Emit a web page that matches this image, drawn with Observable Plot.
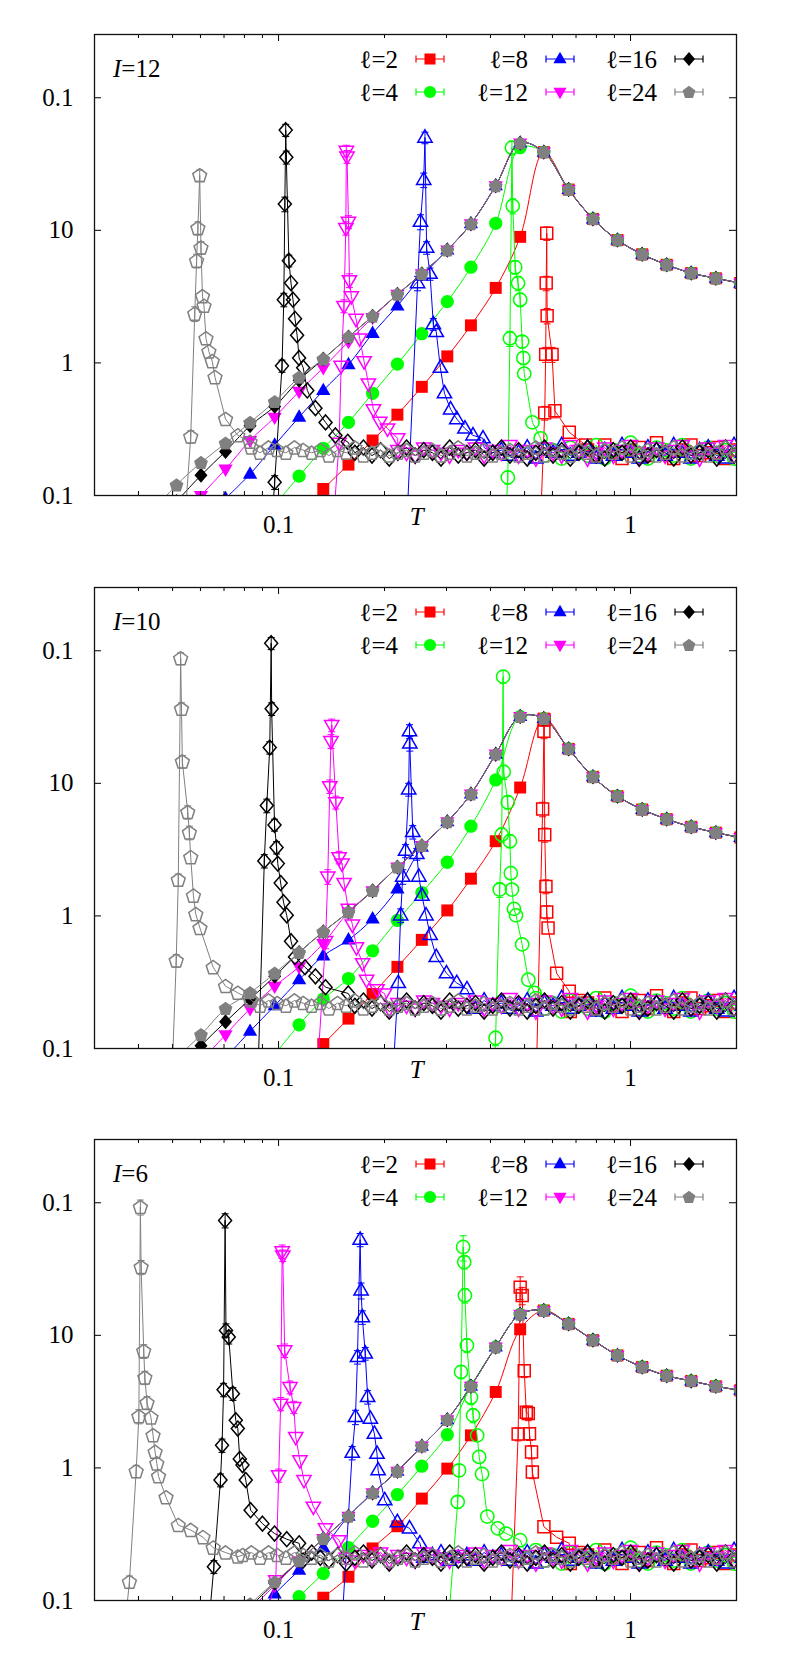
<!DOCTYPE html>
<html><head><meta charset="utf-8">
<script src="https://cdn.jsdelivr.net/npm/d3@7"></script>
<script src="https://cdn.jsdelivr.net/npm/@observablehq/plot@0.6"></script>
<style>
body{margin:0;background:#fff}#root{width:789px}svg{display:block}
svg text{font-family:"Liberation Serif","Times New Roman",Times,"DejaVu Serif",serif !important;}
</style>
</head><body><div id="root"></div>
<script>
// ---------------- data ----------------
const ells = [2, 4, 8, 12, 16, 24];
const panelLabels = ["12", "10", "6"];
const yTicks = [0.1, 1, 10, 100];
const yTickLabels = ["0.1", "1", "10", "0.1"];
const xTicks = [0.1, 1];
const xTickLabels = ["0.1", "1"];
const xMinorTicks = [0.04,0.05,0.06,0.07,0.08,0.09,0.2,0.3,0.4,0.5,0.6,0.7,0.8,0.9];
const xLabelT = 0.247;

// temperatures of the filled-symbol series
const fT = [0.0437,0.0513,0.0602,0.0707,0.083,0.0975,0.1144,0.134,0.158,0.185,0.2176,0.2553,0.3016,0.352,0.414,0.4858,0.567,0.667,0.782,0.918,1.079,1.267,1.487,1.747,2.05];

// common high-T envelope (ℓ=24 filled) per panel
const envI12 = [0.075,0.12,0.177,0.248,0.356,0.51,0.78,1.07,1.57,2.25,3.29,4.7,7.1,11.2,21.7,45.6,38.9,20.3,12.2,8.45,6.6,5.5,4.76,4.35,4.0];
const envI10 = [null,0.085,0.127,0.2,0.263,0.369,0.53,0.76,1.07,1.55,2.34,3.39,5.13,8.3,16.6,31.9,30.8,18.2,11.2,8.0,6.35,5.37,4.7,4.25,3.9];
const envI6  = [null,null,null,null,0.094,0.138,0.199,0.293,0.432,0.648,0.944,1.46,2.31,4.13,8.17,14.4,15.4,12.2,9.2,7.06,5.77,4.96,4.53,4.13,3.85];

// low-T part of filled series per ℓ (aligned to fT, envelope afterwards)
const lowI12 = [
  [null,null,null,null,null,null,0.07,0.112,0.171,0.26,0.407,0.66,1.12,1.92,3.68,8.93],
  [null,null,null,null,null,0.085,0.14,0.227,0.356,0.59,0.98,1.66,2.9,5.27,11.3,42],
  [null,null,null,0.095,0.145,0.24,0.39,0.62,0.97,1.67,2.69,4.5],
  [null,0.062,0.1,0.158,0.26,0.389,0.61,0.92,1.45,2.2],
  [null,0.09,0.142,0.215,0.336,0.47,0.74],
  []
];
const lowI10 = [
  [null,null,null,null,null,null,0.07,0.108,0.168,0.258,0.413,0.66,1.1,1.91,3.66,9.3],
  [null,null,null,null,null,0.09,0.151,0.236,0.337,0.546,0.925,1.5,2.54,4.75,10.6],
  [null,null,null,0.085,0.135,0.21,0.33,0.5,0.66,0.95,1.6,3.3],
  [null,null,0.08,0.127,0.2,0.295,0.413,0.62],
  [null,0.065,0.105,0.159,0.236,0.35],
  []
];
const lowI6 = [
  [null,null,null,null,null,null,0.07,0.105,0.151,0.247,0.363,0.587,0.988,1.76,3.74,11.1],
  [null,null,null,null,null,0.07,0.107,0.16,0.25,0.396,0.63,1.03,1.78],
  [null,null,null,null,0.07,0.112,0.169,0.25],
  [null,null,null,null,0.085,0.13],
  [null,null,null,null,0.09,0.135],
  []
];

// open-symbol series near the peak: [T, value, error]
const peakI12 = [
  [[0.556,0.07],[0.5705,0.42,0.05],[0.574,1.16,0.15],[0.576,4.0,0.5],[0.578,9.5,1.1],[0.5795,2.27,0.3],[0.5985,1.16,0.15],[0.6098,0.435,0.05],[0.6697,0.3],[0.7454,0.24]],
  [[0.442,0.07],[0.448,0.137,0.015],[0.4543,1.53,0.2],[0.4603,42,5],[0.4628,15.3,2],[0.4702,5.27,0.6],[0.4791,4.0,0.5],[0.4858,3.0,0.35],[0.4921,1.45,0.15],[0.4961,1.09,0.12],[0.4989,0.83],[0.5264,0.356],[0.5553,0.27]],
  [[0.232,0.07],[0.2483,4.0,0.5],[0.2531,11.6,1.5],[0.2585,24,3],[0.2606,50,5],[0.2634,7.4,0.8],[0.2693,4.7,0.5],[0.2753,1.96,0.2],[0.2806,1.71],[0.2882,0.92],[0.296,0.59],[0.3082,0.446],[0.321,0.377],[0.3384,0.32],[0.3568,0.284],[0.381,0.27]],
  [[0.1436,0.07],[0.1486,0.25],[0.1506,0.95],[0.1534,2.69,0.3],[0.1553,10.4,1.2],[0.1558,39.8,4],[0.1565,36,4],[0.158,11.6,1.3],[0.159,4.2,0.5],[0.161,3.18],[0.166,2.15],[0.17,1.53],[0.175,1.03],[0.18,0.7],[0.186,0.446],[0.194,0.36],[0.204,0.32],[0.218,0.27]],
  [[0.096,0.07],[0.0975,0.126,0.015],[0.1023,0.95,0.1],[0.1035,3.0,0.35],[0.1042,15.8,2],[0.1048,57,6],[0.1052,35.6,4],[0.107,5.9,0.6],[0.1085,4.0],[0.1099,3.0],[0.1114,2.15],[0.1129,1.62],[0.1144,1.09],[0.1175,0.92],[0.1207,0.62],[0.1273,0.456],[0.136,0.356],[0.1451,0.284],[0.1572,0.254]],
  [[0.0543,0.07],[0.0563,0.278,0.03],[0.0578,2.35,0.3],[0.0585,5.9,0.7],[0.059,10.4,1.2],[0.0597,26,2.5],[0.0602,7.4,0.8],[0.0608,3.18],[0.0614,2.69],[0.0622,1.53],[0.0634,1.22],[0.0648,1.03],[0.066,0.78],[0.0707,0.377],[0.0766,0.284],[0.083,0.254]]
];
const peakI10 = [
  [[0.5405,0.07],[0.5627,6.4,0.8],[0.5674,24.7,3],[0.5685,30,3],[0.5705,4.1,0.5],[0.575,1.67,0.2],[0.578,1.07,0.12],[0.583,0.81],[0.6167,0.369],[0.6697,0.27]],
  [[0.41,0.07],[0.4136,0.12,0.015],[0.4248,1.58,0.2],[0.4305,4.1,0.5],[0.4345,63.8,7],[0.4362,12.2,1.5],[0.448,7.2,0.8],[0.4543,3.66,0.4],[0.457,2.1],[0.4603,1.58],[0.4665,1.13],[0.4727,1.01],[0.4921,0.61],[0.5124,0.33],[0.5335,0.263]],
  [[0.2118,0.07],[0.2188,0.312],[0.2223,1.01,0.12],[0.2253,1.98,0.25],[0.2295,3.1,0.35],[0.2343,9.0,1],[0.2355,24.7,3],[0.236,20,2.5],[0.2406,4.3,0.5],[0.2471,2.93,0.3],[0.2504,1.98],[0.2555,1.42],[0.2624,1.01],[0.2695,0.72],[0.2806,0.49],[0.3,0.369],[0.3208,0.312],[0.343,0.28]],
  [[0.129,0.07],[0.136,0.645,0.08],[0.138,1.98,0.25],[0.1398,9.5,1.1],[0.1409,20.8,2.5],[0.1416,27.5,3],[0.1455,7.2,0.8],[0.1486,2.77,0.3],[0.1515,2.48],[0.1535,1.77],[0.1578,1.13],[0.1621,0.86],[0.1665,0.58],[0.1733,0.44],[0.1779,0.33],[0.1904,0.28],[0.2,0.26]],
  [[0.0875,0.07],[0.0911,2.6,0.3],[0.0926,6.8,0.8],[0.0944,18.6,2],[0.0953,114,12],[0.0956,36.5,4],[0.0974,4.86,0.5],[0.0987,3.28,0.35],[0.0995,2.48],[0.1014,1.77],[0.1033,1.27],[0.1055,1.01],[0.1085,0.645],[0.1114,0.49],[0.1189,0.41],[0.1273,0.35],[0.136,0.29],[0.1578,0.26]],
  [[0.0499,0.07],[0.0512,0.46,0.05],[0.0519,1.87,0.2],[0.0527,87.5,9],[0.053,36.5,4],[0.0533,14.6,1.6],[0.0552,6.07,0.7],[0.0558,4.25,0.5],[0.0563,2.77],[0.0573,1.42],[0.0582,1.03],[0.0598,0.81],[0.0652,0.41],[0.0707,0.295],[0.0766,0.263],[0.083,0.236]]
];
const peakI6 = [
  [[0.4579,0.07],[0.4794,1.8,0.2],[0.4858,23.1,4.5],[0.4923,20,3],[0.4989,5.4,0.6],[0.5056,2.63,0.3],[0.5123,2.57,0.3],[0.5164,1.81,0.2],[0.5233,1.32,0.15],[0.526,0.93,0.1],[0.5674,0.36],[0.6167,0.3],[0.6697,0.27]],
  [[0.3041,0.07],[0.3228,0.555,0.06],[0.3258,0.96,0.1],[0.33,5.3,0.6],[0.3345,46.4,10],[0.3369,35.7,4],[0.3384,20,2.5],[0.3429,8.4,1],[0.3522,3.4,0.4],[0.357,2.49,0.3],[0.3667,1.76],[0.3716,1.21],[0.3785,0.9],[0.3918,0.43],[0.4196,0.35],[0.4428,0.32],[0.4858,0.285]],
  [[0.1516,0.07],[0.1619,1.3,0.15],[0.1654,2.42,0.3],[0.1676,6.87,0.8],[0.1705,52.6,6],[0.1716,21.8,3],[0.173,13.7,1.6],[0.1763,7.3,0.8],[0.1791,3.43,0.4],[0.1823,2.35],[0.1872,1.81],[0.1904,1.28],[0.1918,0.96],[0.2003,0.57],[0.2176,0.39],[0.2356,0.35],[0.2521,0.27]],
  [[0.0915,0.07],[0.0982,0.142],[0.1001,0.88,0.1],[0.1014,3.05,0.35],[0.1024,43,5],[0.1028,40,4],[0.1041,7.7,0.9],[0.1078,4.07,0.45],[0.1105,2.88,0.3],[0.1119,1.71],[0.115,1.14],[0.1181,0.81],[0.1256,0.51],[0.136,0.35],[0.1486,0.285]],
  [[0.0635,0.07],[0.0655,0.18,0.02],[0.0684,0.81,0.09],[0.0691,1.48,0.17],[0.0698,3.89,0.45],[0.0705,73.6,9],[0.0709,10.9,1.3],[0.0722,9.7,1.1],[0.0742,3.63,0.4],[0.0756,2.29],[0.0766,1.98],[0.0776,1.17],[0.079,1.05],[0.0807,0.81],[0.0833,0.48],[0.09,0.38],[0.0974,0.32],[0.1055,0.29],[0.1144,0.27]],
  [[0.0365,0.06],[0.0377,0.138,0.015],[0.0394,0.944,0.1],[0.0401,2.45,0.3],[0.0405,92.8,12],[0.0407,32.7,4],[0.0414,7.6,0.9],[0.0417,4.8,0.55],[0.0423,3.1,0.35],[0.0434,2.4],[0.044,1.76],[0.0446,1.32],[0.0451,1.08],[0.0456,0.865],[0.0479,0.6],[0.0519,0.37],[0.0563,0.34],[0.061,0.3],[0.0652,0.25],[0.0707,0.23],[0.0766,0.214]]
];

// temperatures of the flat high-T tail of the open series
const bT = [0.045,0.0476,0.0504,0.0533,0.0564,0.0597,0.0632,0.0668,0.0707,0.0748,0.0791,0.0837,0.0886,0.0937,0.0991,0.1049,0.111,0.1174,0.1242,0.1314,0.139,0.1471,0.1556,0.1647,0.1742,0.1843,0.195,0.2063,0.2183,0.231,0.2444,0.2586,0.2736,0.2894,0.3062,0.324,0.3428,0.3627,0.3837,0.406,0.4295,0.4544,0.4808,0.5087,0.5382,0.5694,0.6024,0.6374,0.6743,0.7134,0.7548,0.7986,0.8449,0.8939,0.9458,1.0006,1.0587,1.1201,1.1851,1.2538,1.3265,1.4035,1.4849,1.571,1.6621,1.7585,1.8605,1.9684,2.08];
const tailL2  = [0.22,0.21,0.23,0.2,0.22,0.21,0.2,0.23,0.21,0.22,0.2,0.21,0.23,0.22,0.2,0.21,0.22,0.2,0.23,0.21,0.22,0.2,0.21,0.22,0.23,0.2,0.21,0.22,0.2,0.23,0.21,0.22,0.2,0.21,0.23,0.22,0.2,0.21,0.22,0.23,0.21,0.2,0.22,0.21,0.24,0.2,0.22,0.21,0.19,0.23,0.22,0.2,0.24,0.21,0.19,0.22,0.23,0.2,0.25,0.21,0.19,0.22,0.24,0.2,0.21,0.23,0.19,0.22,0.21];
const tailL4  = [0.21,0.22,0.2,0.22,0.21,0.23,0.2,0.21,0.22,0.2,0.22,0.21,0.2,0.23,0.21,0.22,0.2,0.21,0.23,0.22,0.2,0.21,0.22,0.2,0.21,0.23,0.22,0.2,0.21,0.22,0.23,0.2,0.21,0.22,0.2,0.23,0.21,0.22,0.2,0.21,0.23,0.22,0.19,0.21,0.24,0.2,0.22,0.19,0.23,0.21,0.2,0.24,0.19,0.22,0.21,0.25,0.2,0.19,0.23,0.22,0.2,0.24,0.19,0.21,0.23,0.2,0.22,0.19,0.23];
const tailL8  = [0.22,0.2,0.21,0.23,0.2,0.22,0.21,0.2,0.23,0.21,0.2,0.22,0.21,0.23,0.2,0.21,0.22,0.2,0.21,0.23,0.22,0.21,0.2,0.22,0.23,0.21,0.2,0.22,0.21,0.23,0.2,0.21,0.22,0.23,0.2,0.21,0.22,0.2,0.23,0.21,0.22,0.2,0.21,0.23,0.19,0.22,0.21,0.24,0.2,0.21,0.23,0.19,0.22,0.2,0.24,0.21,0.19,0.23,0.22,0.2,0.24,0.21,0.19,0.22,0.23,0.2,0.19,0.24,0.21];
const tailL12 = [0.21,0.23,0.22,0.2,0.21,0.22,0.23,0.21,0.2,0.22,0.21,0.23,0.2,0.22,0.21,0.2,0.23,0.22,0.21,0.2,0.22,0.23,0.21,0.2,0.22,0.21,0.23,0.2,0.22,0.21,0.2,0.23,0.22,0.21,0.2,0.22,0.21,0.23,0.2,0.22,0.21,0.24,0.2,0.22,0.19,0.23,0.21,0.2,0.24,0.22,0.19,0.21,0.23,0.2,0.22,0.24,0.19,0.21,0.23,0.2,0.22,0.24,0.2,0.19,0.23,0.21,0.24,0.2,0.22];
const tailL16 = [0.23,0.22,0.21,0.23,0.2,0.22,0.21,0.23,0.2,0.22,0.21,0.23,0.2,0.22,0.21,0.19,0.22,0.2,0.23,0.21,0.2,0.22,0.19,0.21,0.23,0.2,0.22,0.19,0.21,0.23,0.2,0.22,0.21,0.19,0.23,0.2,0.21,0.22,0.19,0.21,0.23,0.2,0.22,0.19,0.21,0.23,0.2,0.22,0.19,0.21,0.23,0.2,0.19,0.22,0.21,0.23,0.19,0.2,0.22,0.21,0.19,0.23,0.2,0.21,0.22,0.19,0.23,0.2,0.21];
const tailL24 = [0.24,0.23,0.25,0.23,0.24,0.22,0.24,0.23,0.22,0.24,0.22,0.23,0.21,0.23,0.22,0.21,0.23,0.22,0.21,0.22,0.2,0.22,0.21,0.23,0.2,0.21,0.22,0.2,0.21,0.22,0.2,0.21,0.22,0.2,0.21,0.23,0.2,0.21,0.22,0.2,0.21,0.22,0.2,0.21,0.23,0.2,0.22,0.21,0.2,0.22,0.21,0.2,0.22,0.21,0.23,0.2,0.21,0.22,0.2,0.21,0.23,0.2,0.21,0.22,0.2,0.21,0.23,0.2,0.21];

// ---------------- styling / layout ----------------
const colors = ["#ff0000", "#00ff00", "#0000ff", "#ff00ff", "#000000", "#808080"];
const FONT = "Liberation Serif, Times New Roman, Times, DejaVu Serif, serif";
const W = 789, marginLeft = 94, marginRight = 53, marginTop = 34, frameH = 461;
const frameW = W - marginLeft - marginRight;
const panelHeights = [553, 552, 552];
const legendColX = [430, 560, 689];
const legendRowDy = [25, 58];
const dotR = 6.5;

function mkPoly(pts) {
  return { draw(ctx, size) {
    const r = Math.sqrt(size / Math.PI);
    ctx.moveTo(pts[0][0] * r, pts[0][1] * r);
    for (let k = 1; k < pts.length; k++) ctx.lineTo(pts[k][0] * r, pts[k][1] * r);
    ctx.closePath();
  } };
}
const pentPts = [0,1,2,3,4].map(k => { const a = -Math.PI / 2 + k * 2 * Math.PI / 5; return [1.12 * Math.cos(a), 1.12 * Math.sin(a) + 0.08]; });
const SYMS = [
  mkPoly([[-0.92,-0.92],[0.92,-0.92],[0.92,0.92],[-0.92,0.92]]),
  { draw(ctx, size) { const r = 1.02 * Math.sqrt(size / Math.PI); ctx.moveTo(r, 0); ctx.arc(0, 0, r, 0, 2 * Math.PI); ctx.closePath(); } },
  mkPoly([[0,-1.2],[1.1,0.7],[-1.1,0.7]]),
  mkPoly([[0,1.2],[1.1,-0.7],[-1.1,-0.7]]),
  mkPoly([[0,-1.15],[1.0,0],[0,1.15],[-1.0,0]]),
  mkPoly(pentPts)
];
const CAP = { draw(ctx, size) { const r = Math.sqrt(size / Math.PI); ctx.moveTo(-r, 0); ctx.lineTo(r, 0); } };

const yLab = new Map(yTicks.map((t, i) => [t, yTickLabels[i]]));
const xLab = new Map(xTicks.map((t, i) => [t, xTickLabels[i]]));
const envs = [envI12, envI10, envI6];
const lows = [lowI12, lowI10, lowI6];
const peaks = [peakI12, peakI10, peakI6];
const tails = [tailL2, tailL4, tailL8, tailL12, tailL16, tailL24];

function makePanel(p) {
  const H = panelHeights[p];
  const marks = [];
  ells.forEach((l, i) => {
    const c = colors[i];
    const low = lows[p][i];
    const vals = low.concat(envs[p].slice(low.length));
    const fdata = fT.map((t, k) => ({ t, v: vals[k] })).filter(d => d.v != null);
    marks.push(Plot.line(fdata, { x: "t", y: "v", stroke: c, strokeWidth: 1, curve: "catmull-rom", clip: true }));
    marks.push(Plot.dot(fdata, { x: "t", y: "v", symbol: SYMS[i], r: dotR, fill: c, stroke: "none", clip: true }));
    const pk = peaks[p][i];
    const lastT = pk[pk.length - 1][0];
    const odata = pk.map(([t, v, e]) => ({ t, v, e }))
      .concat(bT.map((t, k) => ({ t, v: tails[i][k] })).filter(d => d.t > lastT && d.v != null));
    marks.push(Plot.line(odata, { x: "t", y: "v", stroke: c, strokeWidth: 1, clip: true }));
    const edata = odata.filter(d => d.e);
    marks.push(Plot.ruleX(edata, { x: "t", y1: d => d.v - d.e, y2: d => d.v + d.e, stroke: c, strokeWidth: 1, clip: true }));
    marks.push(Plot.dot(edata, { x: "t", y: d => d.v + d.e, symbol: CAP, r: 3.5, stroke: c, fill: "none", strokeWidth: 1, clip: true }));
    marks.push(Plot.dot(edata, { x: "t", y: d => d.v - d.e, symbol: CAP, r: 3.5, stroke: c, fill: "none", strokeWidth: 1, clip: true }));
    marks.push(Plot.dot(odata, { x: "t", y: "v", symbol: SYMS[i], r: dotR, fill: "none", stroke: c, strokeWidth: 1.5, clip: true }));
  });
  // ticks (inward, gnuplot style)
  marks.push(Plot.tickX(xTicks, { x: d => d, insetTop: frameH - 7, stroke: "#000" }));
  marks.push(Plot.tickX(xTicks, { x: d => d, insetBottom: frameH - 7, stroke: "#000" }));
  marks.push(Plot.tickX(xMinorTicks, { x: d => d, insetTop: frameH - 4, stroke: "#000" }));
  marks.push(Plot.tickX(xMinorTicks, { x: d => d, insetBottom: frameH - 4, stroke: "#000" }));
  marks.push(Plot.tickY(yTicks, { y: d => d, insetRight: frameW - 7, stroke: "#000" }));
  marks.push(Plot.tickY(yTicks, { y: d => d, insetLeft: frameW - 7, stroke: "#000" }));
  marks.push(Plot.axisY({ ticks: yTicks, anchor: "left", tickSize: 0, tickPadding: 21, tickFormat: d => yLab.get(d), fontSize: 25, label: null }));
  marks.push(Plot.axisX({ ticks: xTicks, anchor: "bottom", tickSize: 0, tickPadding: 20, tickFormat: d => xLab.get(d), fontSize: 25, label: null }));
  marks.push(Plot.text([xLabelT], { x: d => d, frameAnchor: "bottom", dy: 29, text: () => "T", fontStyle: "italic", fontSize: 25 }));
  marks.push(Plot.frame({ stroke: "#111", strokeWidth: 1.3 }));

  const svg = Plot.plot({
    width: W, height: H,
    marginLeft, marginRight, marginTop, marginBottom: H - marginTop - frameH,
    x: { type: "log", domain: [0.03, 2] },
    y: { type: "log", domain: [0.1, 300] },
    style: { fontFamily: FONT, fontSize: "25px", background: "#fff", color: "#000" },
    marks
  });

  const g = d3.select(svg).append("g").attr("font-family", FONT).attr("font-size", 25).attr("fill", "#000");
  ells.forEach((l, i) => {
    const col = Math.floor(i / 2), row = i % 2;
    const cx = legendColX[col], cy = marginTop + legendRowDy[row];
    g.append("text").attr("x", cx - 32).attr("y", cy).attr("dy", "0.34em").attr("text-anchor", "end").text("ℓ=" + l);
    g.append("path")
      .attr("d", `M${cx - 14},${cy}H${cx + 14}M${cx - 14},${cy - 3.5}V${cy + 3.5}M${cx + 14},${cy - 3.5}V${cy + 3.5}`)
      .attr("stroke", colors[i]).attr("stroke-width", 1.2).attr("fill", "none");
    const path = d3.path();
    SYMS[i].draw(path, Math.PI * 36);
    g.append("path").attr("transform", `translate(${cx},${cy})`).attr("d", path.toString()).attr("fill", colors[i]);
  });
  const t = g.append("text").attr("x", marginLeft + 19).attr("y", marginTop + 34).attr("dy", "0.34em").attr("text-anchor", "start");
  t.append("tspan").attr("font-style", "italic").text("I");
  t.append("tspan").text("=" + panelLabels[p]);
  return svg;
}

const root = document.getElementById("root");
[0, 1, 2].forEach(p => root.appendChild(makePanel(p)));
</script>
</body></html>
